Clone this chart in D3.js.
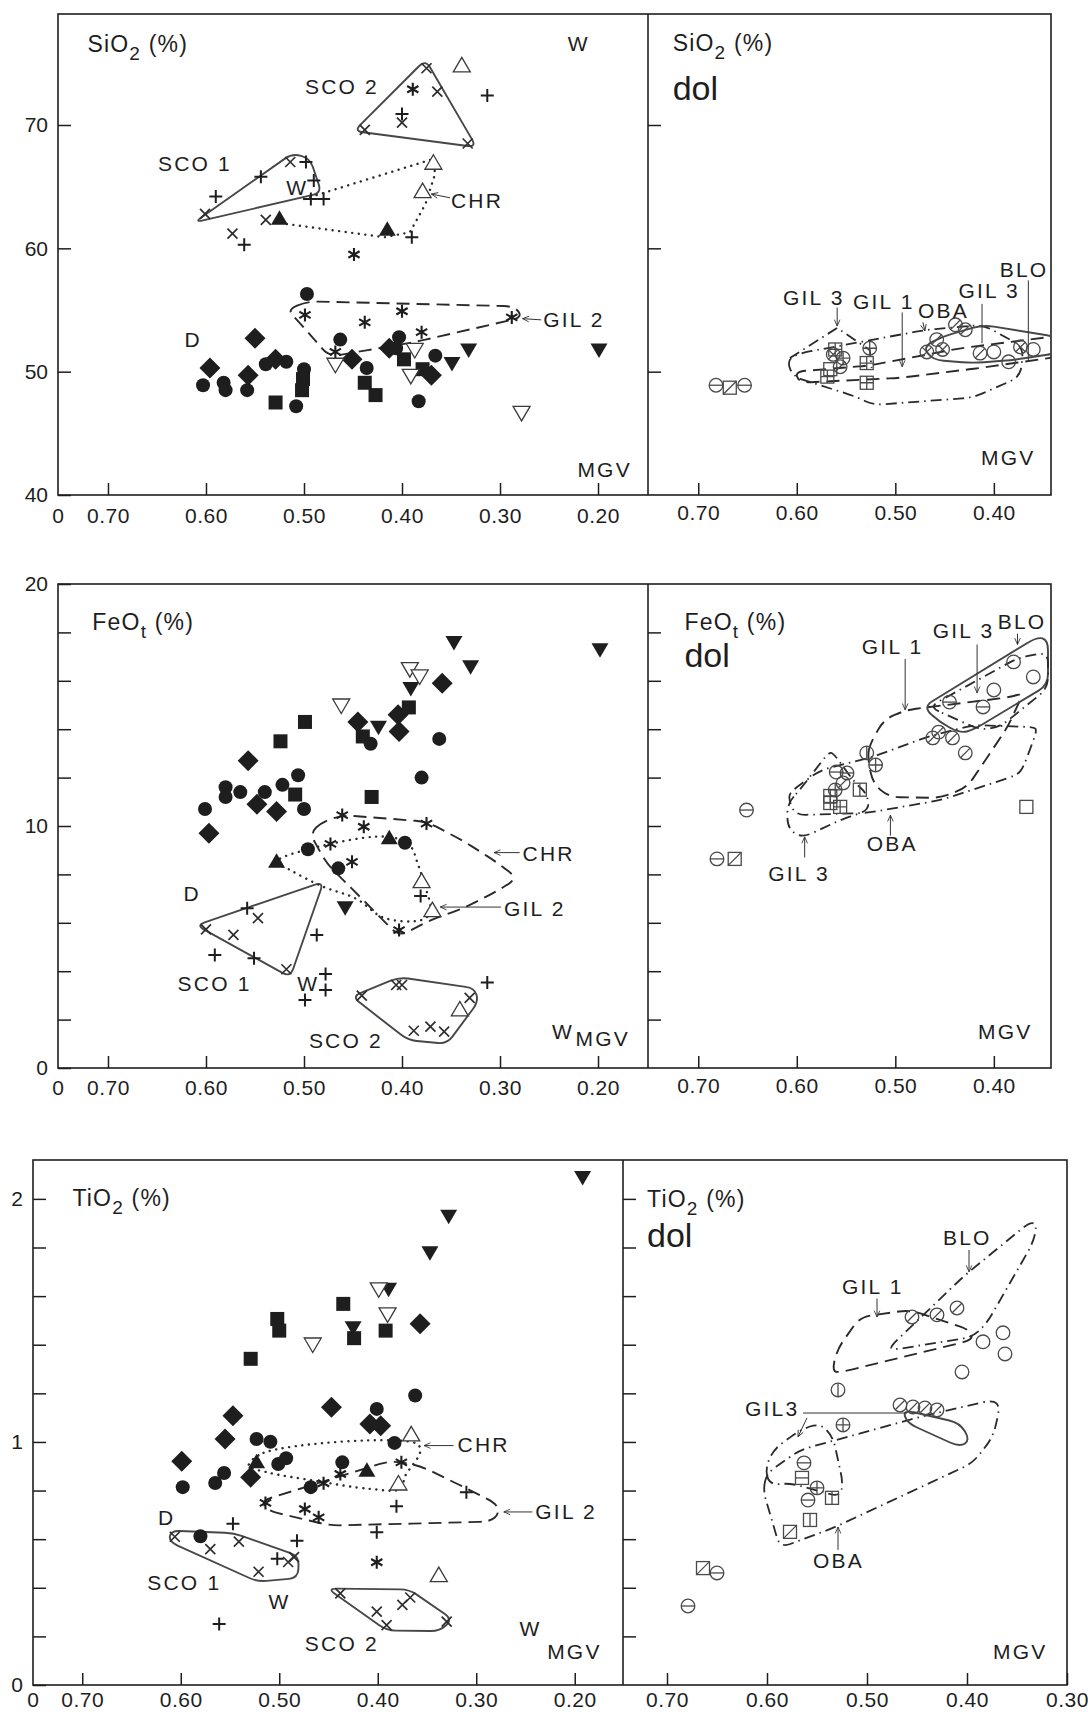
<!DOCTYPE html>
<html>
<head>
<meta charset="utf-8">
<script src="https://cdn.jsdelivr.net/npm/d3@7"></script>
<style>
  body { margin: 0; background: #fff; }
  svg text { font-family: "Liberation Sans", Arial, Helvetica, sans-serif; fill: #1e1e1e; }
</style>
</head>
<body>
<div id="chart"></div>
<script>
// ---- values (x = MGV, y = oxide %) ----
const mgvTicksRock = [0.70, 0.60, 0.50, 0.40, 0.30, 0.20];
const mgvTicksDolTop = [0.70, 0.60, 0.50, 0.40];
const mgvTicksDolLow = [0.70, 0.60, 0.50, 0.40, 0.30];
const sio2Ticks = [40, 50, 60, 70];
const sio2Labelled = [40, 50, 60, 70];
const feoTicks = [0, 2, 4, 6, 8, 10, 12, 14, 16, 18, 20];
const feoLabelled = [0, 10, 20];
const tio2Ticks = [0, 0.2, 0.4, 0.6, 0.8, 1.0, 1.2, 1.4, 1.6, 1.8, 2.0];
const tio2Labelled = [0, 1, 2];

// whole rocks, SiO2
const sio2Rocks = [
  ["otri",0.339,74.8],["otri",0.368,66.9],["otri",0.379,64.6],
  ["plus",0.313,72.4],["plus",0.40,70.9],["plus",0.590,64.2],["plus",0.544,65.8],["plus",0.498,67.0],
  ["plus",0.490,65.5],["plus",0.493,64.0],["plus",0.480,64.0],["plus",0.561,60.3],["plus",0.390,60.9],
  ["cross",0.375,74.6],["cross",0.364,72.7],["cross",0.40,70.2],["cross",0.438,69.6],["cross",0.333,68.5],
  ["cross",0.514,67.0],["cross",0.601,62.8],["cross",0.539,62.3],["cross",0.573,61.2],
  ["star",0.389,72.9],
  ["tri",0.525,62.4],["tri",0.415,61.5],
  ["star",0.449,59.5],["star",0.499,54.6],["star",0.438,54.0],["star",0.40,54.9],["star",0.380,53.2],
  ["star",0.288,54.4],["star",0.468,51.6],
  ["dot",0.497,56.3],["dot",0.603,48.9],["dot",0.582,49.1],["dot",0.580,48.5],["dot",0.558,48.5],
  ["dot",0.539,50.6],["dot",0.518,50.8],["dot",0.500,50.2],["dot",0.508,47.2],["dot",0.463,52.6],
  ["dot",0.436,50.3],["dot",0.403,52.8],["dot",0.406,51.9],["dot",0.366,51.3],["dot",0.383,47.6],
  ["dia",0.596,50.3],["dia",0.550,52.7],["dia",0.557,49.7],["dia",0.529,51.0],["dia",0.451,51.0],
  ["dia",0.413,51.9],["dia",0.370,49.7],
  ["sq",0.501,49.4],["sq",0.502,48.5],["sq",0.529,47.5],["sq",0.438,49.1],["sq",0.427,48.1],
  ["sq",0.398,51.0],["sq",0.379,50.2],
  ["inv",0.332,51.8],["inv",0.349,50.7],["inv",0.199,51.8],
  ["oinv",0.468,50.6],["oinv",0.387,51.8],["oinv",0.391,49.7],["oinv",0.278,46.7]
];
const sio2Fields = [
  ["SCO2", [[0.376,75.3],[0.449,69.5],[0.324,68.2]]],
  ["SCO1", [[0.612,62.1],[0.512,67.7],[0.494,67.3],[0.482,64.5]]],
  ["GIL2", [[0.497,55.7],[0.285,55.3],[0.277,54.4],[0.387,52.4],[0.446,51.6],[0.474,51.2],[0.507,54.2],[0.517,55.0]]]
];
const sio2ChrTrack = [[0.500,64.0],[0.370,67.2],[0.366,66.1],[0.376,63.6],[0.392,61.3],[0.418,60.9],[0.520,62.0]];
const sio2Notes = [["SCO 2",0.499,72.5],["SCO 1",0.649,66.3],["W",0.518,64.3],["W",0.231,76.0],
  ["CHR",0.350,63.3],["GIL 2",0.256,53.6],["D",0.622,52.0],["MGV",0.221,41.5]];
const sio2Arrows = [[0.351,64.1,0.370,64.4],[0.258,54.2,0.277,54.3]];

// dolomite, SiO2
const sio2Dol = [
  ["oh",0.682,48.9],["sd",0.668,48.7],["oh",0.653,48.9],
  ["sg",0.561,51.8],["sg",0.569,49.6],["ox",0.563,51.4],["op",0.553,51.1],["od",0.556,50.4],
  ["sg",0.529,50.7],["sg",0.529,49.1],["op",0.526,51.9],["s",0.566,50.2],
  ["od",0.458,52.6],["od",0.439,53.8],["od",0.429,53.4],["ox",0.468,51.6],["ox",0.452,51.8],
  ["od",0.414,51.5],["o",0.400,51.6],["o",0.385,50.8],["ox",0.373,52.0],["o",0.360,51.8]
];
const sio2DolFields = [
  ["OBA", [[0.610,50.95],[0.597,51.5],[0.468,53.4],[0.411,53.8],[0.370,52.0],[0.373,49.6],[0.421,47.9],[0.523,47.3],[0.539,47.95],[0.604,49.6]]],
  ["GIL1", [[0.602,50.0],[0.526,50.5],[0.434,51.9],[0.335,52.9],[0.335,51.2],[0.414,50.3],[0.495,49.5],[0.597,49.1]]],
  ["GIL3b", [[0.472,52.0],[0.454,52.8],[0.411,53.8],[0.335,52.8],[0.335,51.5],[0.380,50.95],[0.421,50.7],[0.462,50.95]]]
];
const sio2DolGil3Track = [[0.607,51.1],[0.559,53.55],[0.526,51.75],[0.524,50.3]];
const sio2DolNotes = [["GIL 3",0.614,55.4],["GIL 1",0.543,55.1],["OBA",0.477,54.35],["GIL 3",0.436,56.0],
  ["BLO",0.394,57.7],["MGV",0.413,42.4]];
const sio2DolArrows = [[0.559,55.2,0.559,53.7],[0.493,54.8,0.493,50.4],[0.472,54.0,0.470,53.3]];
const sio2DolLeaders = [[0.412,55.5,0.412,52.3],[0.365,57.4,0.365,50.8]];

// whole rocks, FeOt
const feoRocks = [
  ["inv",0.347,17.6],["inv",0.198,17.3],["inv",0.330,16.6],["inv",0.391,15.7],["inv",0.424,14.1],["inv",0.458,6.64],
  ["oinv",0.392,16.5],["oinv",0.382,16.2],["oinv",0.462,15.0],
  ["dia",0.359,15.9],["dia",0.404,14.6],["dia",0.445,14.3],["dia",0.403,13.9],["dia",0.557,12.7],
  ["dia",0.548,10.9],["dia",0.528,10.6],["dia",0.597,9.7],
  ["sq",0.393,14.9],["sq",0.499,14.3],["sq",0.440,13.7],["sq",0.524,13.5],["sq",0.509,11.3],["sq",0.431,11.2],
  ["dot",0.432,13.4],["dot",0.362,13.6],["dot",0.380,12.0],["dot",0.506,12.1],["dot",0.522,11.7],
  ["dot",0.580,11.6],["dot",0.580,11.2],["dot",0.565,11.4],["dot",0.540,11.4],["dot",0.500,10.7],
  ["dot",0.601,10.7],["dot",0.496,9.04],["dot",0.397,9.31],["dot",0.465,8.25],
  ["tri",0.413,9.49],["tri",0.528,8.52],
  ["star",0.461,10.45],["star",0.439,9.97],["star",0.375,10.1],["star",0.473,9.26],["star",0.451,8.52],["star",0.403,5.70],
  ["otri",0.380,7.70],["otri",0.369,6.50],["otri",0.341,2.40],
  ["plus",0.381,7.11],["plus",0.558,6.60],["plus",0.487,5.50],["plus",0.591,4.67],["plus",0.551,4.53],
  ["plus",0.478,3.88],["plus",0.478,3.22],["plus",0.499,2.81],["plus",0.313,3.53],
  ["cross",0.547,6.19],["cross",0.600,5.73],["cross",0.572,5.50],["cross",0.518,4.08],["cross",0.441,2.99],
  ["cross",0.406,3.43],["cross",0.400,3.43],["cross",0.331,2.90],["cross",0.388,1.54],["cross",0.371,1.71],["cross",0.357,1.50]
];
const feoFields = [
  ["SCO1", [[0.610,5.9],[0.480,7.7],[0.514,3.75]]],
  ["SCO2", [[0.451,2.95],[0.403,3.75],[0.326,3.3],[0.322,2.75],[0.354,1.0],[0.394,1.15]]],
  ["GIL2", [[0.481,10.18],[0.460,10.45],[0.375,10.18],[0.339,9.42],[0.304,8.52],[0.282,7.84],[0.304,7.29],
            [0.337,6.60],[0.371,6.12],[0.403,5.43],[0.443,7.08],[0.477,8.46],[0.494,9.70]]]
];
const feoChrTrack = [[0.528,8.52],[0.473,9.26],[0.413,9.55],[0.392,9.2],[0.384,8.45],[0.378,7.70],[0.371,6.45],
  [0.380,6.12],[0.418,6.2],[0.447,7.0],[0.481,7.5],[0.515,8.2]];
const feoNotes = [["CHR",0.277,8.55],["GIL 2",0.296,6.28],["D",0.623,6.9],["SCO 1",0.629,3.18],["W",0.507,3.18],
  ["SCO 2",0.495,0.83],["W",0.247,1.2],["MGV",0.223,0.91]];
const feoArrows = [[0.280,8.9,0.306,8.9],[0.299,6.65,0.361,6.65]];

// dolomite, FeOt
const feoDol = [
  ["oh",0.651,10.66],["oh",0.681,8.64],["sd",0.663,8.64],["s",0.367,10.79],
  ["sg",0.566,10.95],["sg",0.566,11.24],["sg",0.556,10.79],["sv",0.536,11.5],
  ["oh",0.560,12.23],["op",0.561,11.49],["oh",0.549,12.19],["od",0.553,11.78],["ov",0.529,13.02],["op",0.520,12.52],
  ["od",0.462,13.64],["od",0.456,13.88],["od",0.442,13.64],["od",0.429,13.02],
  ["oh",0.445,15.12],["oh",0.411,14.92],["o",0.400,15.62],["o",0.380,16.78],["o",0.360,16.16]
];
const feoDolFields = [
  ["GIL1", [[0.526,13.35],[0.512,14.38],[0.490,14.79],[0.383,15.33],[0.370,15.50],[0.386,14.09],[0.427,11.61],
            [0.454,11.16],[0.507,11.20],[0.523,11.78],[0.528,12.85]]],
  ["BLO", [[0.472,14.92],[0.356,17.81],[0.345,17.69],[0.345,15.83],[0.421,13.97],[0.434,13.84],[0.454,14.26]]],
  ["OBA", [[0.609,11.2],[0.602,10.45],[0.529,10.54],[0.454,11.07],[0.376,12.11],[0.370,12.44],[0.356,13.97],
           [0.360,14.09],[0.421,14.17],[0.468,13.68],[0.523,12.85],[0.576,12.31],[0.604,11.49]]],
  ["GIL3", [[0.609,10.95],[0.610,10.12],[0.604,9.71],[0.592,9.55],[0.556,10.25],[0.526,10.66],[0.529,11.36],
            [0.541,11.78],[0.563,13.02],[0.568,13.02],[0.597,11.49]]],
  ["GIL3b", [[0.466,14.92],[0.376,16.94],[0.345,17.19],[0.345,15.70],[0.394,14.09],[0.414,13.97]]]
];
const feoDolNotes = [["GIL 1",0.534,17.1],["GIL 3",0.462,17.77],["BLO",0.396,18.14],["OBA",0.529,8.97],
  ["GIL 3",0.629,7.73],["MGV",0.416,1.2]];
const feoDolArrows = [[0.490,16.9,0.490,14.8],[0.417,17.5,0.417,15.5],[0.376,17.95,0.376,17.5],
  [0.505,9.6,0.505,10.45],[0.592,8.7,0.592,9.55]];

// whole rocks, TiO2
const tio2Rocks = [
  ["inv",0.328,1.931],["inv",0.347,1.780],["inv",0.389,1.630],["inv",0.425,1.472],["inv",0.192,2.09],
  ["oinv",0.399,1.630],["oinv",0.390,1.527],["oinv",0.466,1.403],
  ["sq",0.435,1.568],["sq",0.502,1.506],["sq",0.500,1.458],["sq",0.424,1.427],["sq",0.392,1.458],["sq",0.529,1.342],
  ["dia",0.357,1.486],["dia",0.447,1.143],["dia",0.547,1.108],["dia",0.408,1.074],["dia",0.397,1.067],
  ["dia",0.555,1.012],["dia",0.599,0.921],["dia",0.529,0.855],
  ["dot",0.362,1.191],["dot",0.401,1.136],["dot",0.523,1.012],["dot",0.509,1.001],["dot",0.383,0.996],
  ["dot",0.493,0.933],["dot",0.501,0.909],["dot",0.556,0.872],["dot",0.565,0.831],["dot",0.598,0.814],
  ["dot",0.436,0.916],["dot",0.468,0.814],["dot",0.580,0.612],
  ["tri",0.523,0.916],["tri",0.411,0.882],
  ["otri",0.366,1.029],["otri",0.379,0.827],["otri",0.338,0.450],
  ["star",0.376,0.916],["star",0.438,0.868],["star",0.455,0.830],["star",0.514,0.749],["star",0.474,0.724],
  ["star",0.460,0.690],["star",0.401,0.505],
  ["plus",0.310,0.793],["plus",0.381,0.735],["plus",0.401,0.628],["plus",0.547,0.663],["plus",0.482,0.594],
  ["plus",0.561,0.251],["plus",0.502,0.519],
  ["cross",0.606,0.610],["cross",0.541,0.590],["cross",0.570,0.559],["cross",0.521,0.466],["cross",0.491,0.506],
  ["cross",0.485,0.526],["cross",0.438,0.377],["cross",0.401,0.302],["cross",0.391,0.246],["cross",0.375,0.330],
  ["cross",0.367,0.360],["cross",0.330,0.261]
];
const tio2Fields = [
  ["SCO1", [[0.610,0.635],[0.546,0.625],[0.480,0.53],[0.481,0.44],[0.522,0.425],[0.612,0.59]]],
  ["SCO2", [[0.451,0.397],[0.368,0.393],[0.324,0.27],[0.337,0.222],[0.391,0.224]]],
  ["GIL2", [[0.518,0.758],[0.469,0.82],[0.387,0.923],[0.357,0.902],[0.309,0.807],[0.279,0.745],[0.277,0.704],
            [0.286,0.672],[0.377,0.663],[0.448,0.656],[0.512,0.717]]]
];
const tio2ChrTrack = [[0.531,0.902],[0.516,0.955],[0.360,0.992],[0.357,0.958],[0.372,0.861],[0.377,0.807],
  [0.408,0.807],[0.465,0.841],[0.512,0.875]];
const tio2Notes = [["CHR",0.319,0.96],["GIL 2",0.240,0.683],["D",0.623,0.658],["SCO 1",0.634,0.39],["W",0.511,0.313],
  ["SCO 2",0.474,0.14],["W",0.256,0.20],["MGV",0.228,0.107]];
const tio2Arrows = [[0.323,0.985,0.353,0.985],[0.243,0.712,0.272,0.712]];

// dolomite, TiO2
const tio2Dol = [
  ["sd",0.664,0.481],["oh",0.650,0.461],["oh",0.679,0.325],["sd",0.577,0.630],
  ["oh",0.563,0.914],["sh",0.565,0.852],["op",0.550,0.811],["oh",0.559,0.761],["sv",0.535,0.770],["sv",0.557,0.679],
  ["op",0.524,1.070],["ov",0.529,1.214],
  ["od",0.467,1.152],["od",0.454,1.144],["od",0.442,1.140],["od",0.430,1.132],
  ["od",0.455,1.514],["od",0.430,1.523],["od",0.410,1.551],
  ["o",0.384,1.412],["o",0.364,1.449],["o",0.362,1.362],["o",0.405,1.288]
];
const tio2DolFields = [
  ["BLO", [[0.477,1.391],[0.404,1.679],[0.337,1.905],[0.330,1.893],[0.334,1.819],[0.380,1.490],[0.394,1.432],[0.474,1.379]]],
  ["GIL1", [[0.535,1.288],[0.530,1.379],[0.507,1.514],[0.457,1.543],[0.397,1.461],[0.394,1.420],[0.525,1.288]]],
  ["OBA", [[0.604,0.802],[0.587,0.564],[0.534,0.646],[0.394,0.914],[0.374,1.021],[0.367,1.144],[0.374,1.173],
           [0.447,1.103],[0.567,0.967],[0.600,0.872]]],
  ["GIL3", [[0.602,0.885],[0.594,0.967],[0.567,1.049],[0.547,1.078],[0.534,1.021],[0.524,0.831],[0.527,0.774],
            [0.577,0.831],[0.597,0.823]]],
  ["GIL3b", [[0.464,1.132],[0.407,1.078],[0.397,1.008],[0.407,0.979],[0.460,1.078]]]
];
const tio2DolNotes = [["BLO",0.424,1.81],["GIL 1",0.525,1.609],["GIL3",0.622,1.107],["OBA",0.554,0.481],["MGV",0.374,0.107]];
const tio2DolArrows = [[0.398,1.79,0.398,1.70],[0.49,1.59,0.49,1.514],[0.56,1.099,0.569,1.021],[0.529,0.556,0.529,0.650]];
const tio2DolLeaders = [[0.564,1.119,0.46,1.119]];

// ---- drawing ----
const ink = "#1e1e1e";
const svg = d3.select("#chart").append("svg")
  .attr("width", 1088).attr("height", 1715)
  .style("background", "#fff");
const defs = svg.append("defs");
defs.append("marker").attr("id", "head")
  .attr("viewBox", "0 0 10 10").attr("refX", 9).attr("refY", 5)
  .attr("markerWidth", 8).attr("markerHeight", 8).attr("orient", "auto")
  .append("path").attr("d", "M1,1.5L9,5L1,8.5")
  .attr("fill", "none").attr("stroke", "#333").attr("stroke-width", 1.1);

const lineStyles = {
  solid:   {dash: null, width: 1.9, color: "#474747", cap: "round"},
  dash:    {dash: "13,7", width: 1.9, color: "#2a2a2a", cap: "butt"},
  dot:     {dash: "0.1,6.5", width: 2.4, color: "#2a2a2a", cap: "round"},
  dashdot: {dash: "11,5,1.5,5", width: 1.8, color: "#2a2a2a", cap: "butt"}
};
const baseFieldLine = {SCO1: "solid", SCO2: "solid", GIL2: "dash", GIL1: "dash", OBA: "dashdot",
  GIL3: "dashdot", GIL3b: "solid", BLO: "solid"};

let clipCount = 0;
function makePanel(left, right, top, bottom, xDomain, yDomain) {
  const x = d3.scaleLinear().domain(xDomain).range([left, right]);
  const y = d3.scaleLinear().domain(yDomain).range([bottom, top]);
  const id = "clip" + (clipCount++);
  defs.append("clipPath").attr("id", id).append("rect")
    .attr("x", left).attr("y", top).attr("width", right - left).attr("height", bottom - top);
  const g = svg.append("g");
  const inner = g.append("g").attr("clip-path", "url(#" + id + ")");
  return {x, y, g, inner, left, right, top, bottom};
}

function frame(left, mid, right, top, bottom) {
  svg.append("rect").attr("x", left).attr("y", top)
    .attr("width", right - left).attr("height", bottom - top)
    .attr("fill", "none").attr("stroke", ink).attr("stroke-width", 1.6);
  svg.append("line").attr("x1", mid).attr("x2", mid).attr("y1", top).attr("y2", bottom)
    .attr("stroke", ink).attr("stroke-width", 1.6);
}

function xAxis(p, ticks, pad) {
  const ax = p.g.append("g").attr("transform", "translate(0," + p.bottom + ")")
    .call(d3.axisBottom(p.x).tickValues(ticks).tickSizeInner(-12).tickSizeOuter(0)
      .tickPadding(pad).tickFormat(d3.format(".2f")));
  ax.select(".domain").remove();
  ax.selectAll("line").attr("stroke", ink).attr("stroke-width", 1.5);
  ax.selectAll("text").attr("font-size", 21).attr("letter-spacing", 0.5)
    .attr("font-family", null).attr("fill", ink);
  ax.attr("font-family", null);
}

function yAxis(p, ticks, labelled, fmt) {
  const ax = p.g.append("g").attr("transform", "translate(" + p.left + ",0)")
    .call(d3.axisLeft(p.y).tickValues(ticks).tickSizeInner(-13).tickSizeOuter(0)
      .tickPadding(10)
      .tickFormat(d => labelled && labelled.some(v => Math.abs(v - d) < 1e-9) ? fmt(d) : ""));
  ax.select(".domain").remove();
  ax.selectAll("line").attr("stroke", ink).attr("stroke-width", 1.5);
  ax.selectAll("text").attr("font-size", 21).attr("fill", ink);
  ax.attr("font-family", null);
}

function originZero(p, pad) {
  p.g.append("text").attr("x", p.left).attr("y", p.bottom + pad + 15)
    .attr("text-anchor", "middle").attr("font-size", 21).text("0");
}

function roundedPath(pts, r) {
  const n = pts.length;
  let d = "";
  for (let i = 0; i < n; i++) {
    const a = pts[(i - 1 + n) % n], b = pts[i], c = pts[(i + 1) % n];
    const l1 = Math.hypot(a[0] - b[0], a[1] - b[1]), l2 = Math.hypot(c[0] - b[0], c[1] - b[1]);
    const r1 = Math.min(r, l1 / 2), r2 = Math.min(r, l2 / 2);
    const p1 = [b[0] + (a[0] - b[0]) * r1 / l1, b[1] + (a[1] - b[1]) * r1 / l1];
    const p2 = [b[0] + (c[0] - b[0]) * r2 / l2, b[1] + (c[1] - b[1]) * r2 / l2];
    d += (i === 0 ? "M" : "L") + p1[0].toFixed(1) + "," + p1[1].toFixed(1)
      + "Q" + b[0].toFixed(1) + "," + b[1].toFixed(1) + " " + p2[0].toFixed(1) + "," + p2[1].toFixed(1);
  }
  return d + "Z";
}

function styled(sel, styleName) {
  const s = lineStyles[styleName];
  sel.attr("fill", "none").attr("stroke", s.color).attr("stroke-width", s.width)
    .attr("stroke-linecap", s.cap).attr("stroke-linejoin", "round");
  if (s.dash) sel.attr("stroke-dasharray", s.dash);
  return sel;
}

function fields(p, list, overrides) {
  list.forEach(([name, pts]) => {
    const px = pts.map(d => [p.x(d[0]), p.y(d[1])]);
    const styleName = (overrides && overrides[name]) || baseFieldLine[name];
    styled(p.inner.append("path").attr("d", roundedPath(px, name.startsWith("SCO") ? 9 : 11)), styleName);
  });
}

function track(p, pts, styleName, closed) {
  const line = d3.line().x(d => p.x(d[0])).y(d => p.y(d[1]))
    .curve(closed ? d3.curveCatmullRomClosed.alpha(0.5) : d3.curveLinear);
  styled(p.inner.append("path").attr("d", line(pts)), styleName);
}

function mark(g, t, cx, cy) {
  const k = ink;
  if (t === "dot") { g.append("circle").attr("cx", cx).attr("cy", cy).attr("r", 7).attr("fill", k); return; }
  if (t === "sq") { g.append("rect").attr("x", cx - 7).attr("y", cy - 7).attr("width", 14).attr("height", 14).attr("fill", k); return; }
  if (t === "dia") { g.append("path").attr("d", `M${cx},${cy - 10.5}L${cx + 10.5},${cy}L${cx},${cy + 10.5}L${cx - 10.5},${cy}Z`).attr("fill", k); return; }
  if (t === "tri" || t === "otri") {
    const pth = g.append("path").attr("d", `M${cx},${cy - 8.5}L${cx + 8.5},${cy + 6}L${cx - 8.5},${cy + 6}Z`);
    if (t === "tri") pth.attr("fill", k); else pth.attr("fill", "#fff").attr("stroke", "#3a3a3a").attr("stroke-width", 1.3);
    return;
  }
  if (t === "inv" || t === "oinv") {
    const pth = g.append("path").attr("d", `M${cx - 8.5},${cy - 6}L${cx + 8.5},${cy - 6}L${cx},${cy + 8.5}Z`);
    if (t === "inv") pth.attr("fill", k); else pth.attr("fill", "#fff").attr("stroke", "#3a3a3a").attr("stroke-width", 1.3);
    return;
  }
  if (t === "plus") {
    g.append("path").attr("d", `M${cx - 6.5},${cy}H${cx + 6.5}M${cx},${cy - 6.5}V${cy + 6.5}`)
      .attr("stroke", k).attr("stroke-width", 2); return;
  }
  if (t === "cross") {
    g.append("path").attr("d", `M${cx - 5},${cy - 5}L${cx + 5},${cy + 5}M${cx + 5},${cy - 5}L${cx - 5},${cy + 5}`)
      .attr("stroke", "#2e2e2e").attr("stroke-width", 1.7); return;
  }
  if (t === "star") {
    let d = "";
    [90, 30, 150].forEach(a => {
      const r = a * Math.PI / 180, dx = 6.5 * Math.cos(r), dy = 6.5 * Math.sin(r);
      d += `M${cx - dx},${cy - dy}L${cx + dx},${cy + dy}`;
    });
    g.append("path").attr("d", d).attr("stroke", k).attr("stroke-width", 2.1); return;
  }
  // open dolomite symbols
  const sc = "#4a4a4a", sw = 1.3;
  if (t[0] === "o") {
    const r = 6.8;
    g.append("circle").attr("cx", cx).attr("cy", cy).attr("r", r).attr("fill", "none").attr("stroke", sc).attr("stroke-width", sw);
    let d = "";
    if (t === "oh" || t === "op") d += `M${cx - r},${cy}H${cx + r}`;
    if (t === "ov" || t === "op") d += `M${cx},${cy - r}V${cy + r}`;
    if (t === "od" || t === "ox") d += `M${cx - 4.8},${cy + 4.8}L${cx + 4.8},${cy - 4.8}`;
    if (t === "ox") d += `M${cx - 4.8},${cy - 4.8}L${cx + 4.8},${cy + 4.8}`;
    if (d) g.append("path").attr("d", d).attr("stroke", sc).attr("stroke-width", sw);
    return;
  }
  if (t[0] === "s") {
    const h = 6.5;
    g.append("rect").attr("x", cx - h).attr("y", cy - h).attr("width", 2 * h).attr("height", 2 * h)
      .attr("fill", "none").attr("stroke", sc).attr("stroke-width", sw);
    let d = "";
    if (t === "sd") d += `M${cx - h},${cy + h}L${cx + h},${cy - h}`;
    if (t === "sg") d += `M${cx - h},${cy}H${cx + h}M${cx},${cy - h}V${cy + h}`;
    if (t === "sv") d += `M${cx},${cy - h}V${cy + h}`;
    if (t === "sh") d += `M${cx - h},${cy}H${cx + h}`;
    if (d) g.append("path").attr("d", d).attr("stroke", sc).attr("stroke-width", sw);
  }
}

function points(p, list) {
  const g = p.inner.append("g");
  list.forEach(([t, mx, v]) => mark(g, t, p.x(mx), p.y(v)));
}

function notes(p, list) {
  list.forEach(([txt, mx, v]) => {
    p.g.append("text").attr("x", p.x(mx)).attr("y", p.y(v))
      .attr("font-size", 21).attr("letter-spacing", 2.2).text(txt);
  });
}

function arrows(p, list, withHead) {
  list.forEach(([x1, y1, x2, y2]) => {
    const l = p.g.append("line")
      .attr("x1", p.x(x1)).attr("y1", p.y(y1)).attr("x2", p.x(x2)).attr("y2", p.y(y2))
      .attr("stroke", "#333").attr("stroke-width", 1);
    if (withHead) l.attr("marker-end", "url(#head)");
  });
}

function title(p, parts, mx, v, dol) {
  const t = p.g.append("text").attr("x", p.x(mx)).attr("y", p.y(v))
    .attr("font-size", 23).attr("letter-spacing", 1.2);
  t.append("tspan").text(parts[0]);
  t.append("tspan").attr("font-size", 19).attr("dy", 8).text(parts[1]);
  t.append("tspan").attr("dy", -8).text(parts[2]);
  if (dol) {
    p.g.append("text").attr("x", p.x(mx)).attr("y", p.y(dol))
      .attr("font-size", 34).text("dol");
  }
}

// ---- SiO2 row ----
frame(58, 648, 1051, 14, 495);
const pA = makePanel(58, 648, 14, 495, [0.751, 0.149], [40, 79]);
const pB = makePanel(648, 1051, 14, 495, [0.751, 0.342], [40, 79]);
yAxis(pA, sio2Ticks, sio2Labelled, d3.format("d"));
yAxis(pB, sio2Ticks.slice(1), null, d3.format("d"));
xAxis(pA, mgvTicksRock, 13);
xAxis(pB, mgvTicksDolTop, 10);
originZero(pA, 13);
fields(pA, sio2Fields);
track(pA, sio2ChrTrack, "dot", false);
points(pA, sio2Rocks);
notes(pA, sio2Notes);
arrows(pA, sio2Arrows, true);
title(pA, ["SiO", "2", " (%)"], 0.721, 75.9);
fields(pB, sio2DolFields);
track(pB, sio2DolGil3Track, "dashdot", false);
points(pB, sio2Dol);
notes(pB, sio2DolNotes);
arrows(pB, sio2DolArrows, true);
arrows(pB, sio2DolLeaders, false);
title(pB, ["SiO", "2", " (%)"], 0.726, 76.0, 72.0);

// ---- FeOt row ----
frame(58, 648, 1051, 584, 1068);
const pC = makePanel(58, 648, 584, 1068, [0.751, 0.149], [0, 20]);
const pD = makePanel(648, 1051, 584, 1068, [0.751, 0.342], [0, 20]);
yAxis(pC, feoTicks, feoLabelled, d3.format("d"));
yAxis(pD, feoTicks.slice(1, -1), null, d3.format("d"));
xAxis(pC, mgvTicksRock, 12);
xAxis(pD, mgvTicksDolTop, 10);
originZero(pC, 12);
fields(pC, feoFields);
track(pC, feoChrTrack, "dot", true);
points(pC, feoRocks);
notes(pC, feoNotes);
arrows(pC, feoArrows, true);
title(pC, ["FeO", "t", " (%)"], 0.716, 18.1);
fields(pD, feoDolFields, {GIL3b: "dashdot"});
points(pD, feoDol);
notes(pD, feoDolNotes);
arrows(pD, feoDolArrows, true);
title(pD, ["FeO", "t", " (%)"], 0.714, 18.1, 16.57);

// ---- TiO2 row ----
frame(33, 623, 1067, 1160, 1685);
const pE = makePanel(33, 623, 1160, 1685, [0.750, 0.151], [0, 2.16]);
const pF = makePanel(623, 1067, 1160, 1685, [0.744, 0.300], [0, 2.16]);
yAxis(pE, tio2Ticks, tio2Labelled, d3.format("d"));
yAxis(pF, tio2Ticks.slice(1), null, d3.format("d"));
xAxis(pE, mgvTicksRock, 7);
xAxis(pF, mgvTicksDolLow, 7);
originZero(pE, 7);
fields(pE, tio2Fields);
track(pE, tio2ChrTrack, "dot", true);
points(pE, tio2Rocks);
notes(pE, tio2Notes);
arrows(pE, tio2Arrows, true);
title(pE, ["TiO", "2", " (%)"], 0.710, 1.97);
fields(pF, tio2DolFields, {BLO: "dashdot"});
points(pF, tio2Dol);
notes(pF, tio2DolNotes);
arrows(pF, tio2DolArrows, true);
arrows(pF, tio2DolLeaders, false);
title(pF, ["TiO", "2", " (%)"], 0.720, 1.967, 1.802);
</script>
</body>
</html>
